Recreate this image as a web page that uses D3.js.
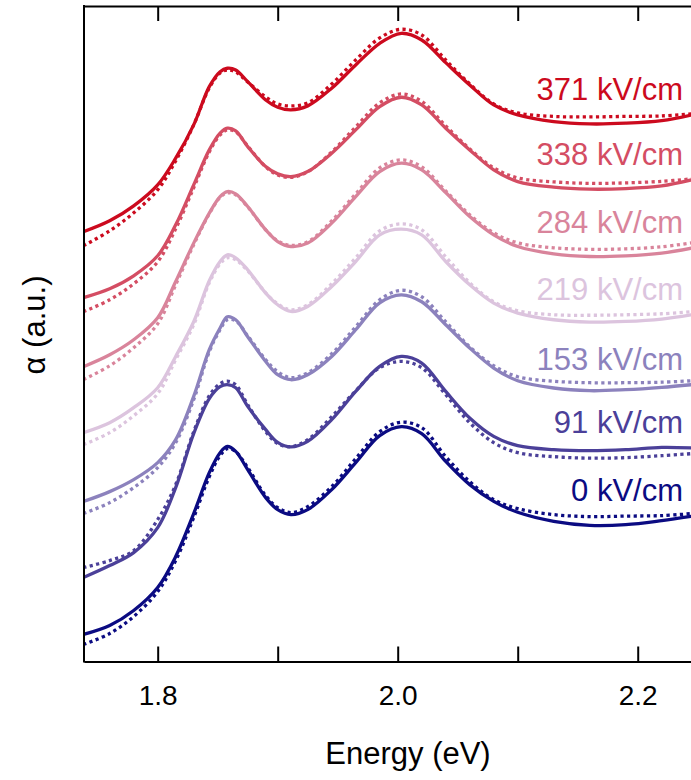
<!DOCTYPE html>
<html>
<head>
<meta charset="utf-8">
<script src="https://cdn.jsdelivr.net/npm/d3@7"></script>
<style>
  body { margin: 0; background: #fff; }
  svg { display: block; font-family: "Liberation Sans", Arial, Helvetica, sans-serif; }
</style>
</head>
<body>
<svg id="chart" width="691" height="780"></svg>
<script>
///////////////    Data    ////////////////

// Photon energy (eV), shared by every spectrum
let energy = [1.738, 1.76, 1.78, 1.80, 1.815, 1.83, 1.843, 1.852, 1.858, 1.865, 1.875, 1.89, 1.90, 1.911,
  1.925, 1.945, 1.965, 1.985, 2.003, 2.02, 2.04, 2.06, 2.08, 2.10, 2.13, 2.16, 2.19, 2.22, 2.245];

// Field labels, bottom to top
let fields = ["0 kV/cm", "91 kV/cm", "153 kV/cm", "219 kV/cm", "284 kV/cm", "338 kV/cm", "371 kV/cm"];
let colors = ["#0b0b82", "#4b4099", "#8c82bd", "#dcc4de", "#d9849b", "#d44d63", "#cc0a1e"];

// Measured absorption (solid), offset spectra, a.u.
let measured = [
  [0.27, 0.36, 0.51, 0.74, 1.05, 1.48, 1.89, 2.09, 2.153, 2.103, 1.92, 1.64, 1.52, 1.47, 1.52, 1.72, 1.99, 2.26, 2.35, 2.28, 2.003, 1.77, 1.603, 1.493, 1.403, 1.363, 1.37, 1.41, 1.453],
  [0.84, 0.96, 1.09, 1.34, 1.74, 2.28, 2.63, 2.75, 2.77, 2.74, 2.553, 2.32, 2.193, 2.147, 2.203, 2.42, 2.703, 2.953, 3.053, 2.987, 2.703, 2.437, 2.253, 2.16, 2.12, 2.11, 2.12, 2.143, 2.137],
  [1.60, 1.70, 1.82, 1.99, 2.22, 2.653, 3.12, 3.337, 3.45, 3.42, 3.25, 3.003, 2.87, 2.82, 2.87, 3.053, 3.32, 3.59, 3.67, 3.60, 3.37, 3.137, 2.937, 2.81, 2.737, 2.71, 2.72, 2.743, 2.77],
  [2.29, 2.39, 2.54, 2.74, 3.053, 3.40, 3.81, 4.003, 4.07, 4.04, 3.92, 3.687, 3.57, 3.503, 3.553, 3.753, 4.003, 4.27, 4.327, 4.27, 4.003, 3.77, 3.587, 3.487, 3.42, 3.397, 3.403, 3.427, 3.47],
  [2.95, 3.07, 3.22, 3.44, 3.803, 4.187, 4.487, 4.653, 4.703, 4.68, 4.553, 4.32, 4.203, 4.153, 4.187, 4.387, 4.653, 4.903, 4.987, 4.92, 4.693, 4.453, 4.27, 4.153, 4.08, 4.053, 4.06, 4.087, 4.137],
  [3.64, 3.73, 3.86, 4.06, 4.37, 4.77, 5.12, 5.287, 5.337, 5.31, 5.153, 4.953, 4.88, 4.853, 4.903, 5.087, 5.32, 5.553, 5.647, 5.57, 5.337, 5.12, 4.92, 4.803, 4.747, 4.727, 4.733, 4.76, 4.82],
  [4.30, 4.41, 4.56, 4.77, 5.037, 5.37, 5.753, 5.903, 5.937, 5.92, 5.803, 5.62, 5.547, 5.52, 5.56, 5.737, 5.97, 6.187, 6.287, 6.22, 5.993, 5.77, 5.57, 5.47, 5.403, 5.38, 5.387, 5.413, 5.47],
];

// Model fit (dotted)
let fitted = [
  [0.17, 0.28, 0.45, 0.70, 1.01, 1.44, 1.85, 2.06, 2.13, 2.10, 1.94, 1.66, 1.54, 1.49, 1.55, 1.75, 2.03, 2.30, 2.395, 2.34, 2.05, 1.80, 1.62, 1.53, 1.47, 1.45, 1.455, 1.46, 1.48],
  [0.94, 1.01, 1.11, 1.42, 1.77, 2.30, 2.66, 2.78, 2.805, 2.77, 2.57, 2.30, 2.18, 2.15, 2.22, 2.45, 2.71, 2.94, 3.003, 2.94, 2.67, 2.39, 2.19, 2.09, 2.05, 2.035, 2.04, 2.06, 2.08],
  [1.48, 1.59, 1.74, 1.94, 2.19, 2.62, 3.10, 3.32, 3.42, 3.41, 3.26, 3.02, 2.90, 2.84, 2.89, 3.08, 3.35, 3.62, 3.715, 3.65, 3.40, 3.15, 2.96, 2.85, 2.805, 2.79, 2.79, 2.795, 2.81],
  [2.17, 2.29, 2.46, 2.68, 3.02, 3.37, 3.79, 3.98, 4.04, 4.02, 3.91, 3.69, 3.58, 3.52, 3.57, 3.78, 4.04, 4.31, 4.38, 4.32, 4.05, 3.79, 3.60, 3.51, 3.47, 3.465, 3.47, 3.48, 3.50],
  [2.82, 2.96, 3.14, 3.38, 3.77, 4.17, 4.48, 4.645, 4.69, 4.67, 4.55, 4.32, 4.21, 4.165, 4.20, 4.41, 4.68, 4.94, 5.02, 4.95, 4.71, 4.47, 4.29, 4.19, 4.14, 4.125, 4.13, 4.15, 4.19],
  [3.50, 3.62, 3.78, 4.00, 4.33, 4.74, 5.10, 5.27, 5.32, 5.30, 5.16, 4.95, 4.87, 4.845, 4.90, 5.10, 5.35, 5.59, 5.68, 5.605, 5.36, 5.13, 4.94, 4.84, 4.80, 4.785, 4.79, 4.805, 4.83],
  [4.16, 4.31, 4.49, 4.72, 5.01, 5.37, 5.74, 5.89, 5.92, 5.90, 5.80, 5.65, 5.58, 5.56, 5.59, 5.78, 6.02, 6.24, 6.327, 6.27, 6.02, 5.78, 5.58, 5.49, 5.455, 5.45, 5.455, 5.46, 5.48],
];

// Axis ticks
let xTicks = [1.8, 1.9, 2.0, 2.1, 2.2];
let xTickLabels = ["1.8", "", "2.0", "", "2.2"];

/////////////////////////    D3.js    ////////////////////////////

let svg = d3.select("#chart");
let plotLeft = 84, plotRight = 691, plotTop = 6, plotBottom = 661.5;

let x = d3.scaleLinear().domain([1.7386, 2.2444]).range([plotLeft, plotRight]);
let y = d3.scaleLinear().domain([0, 6.56]).range([plotBottom, plotTop]);

svg.append("defs")
  .append("clipPath")
  .attr("id", "plotclip")
  .append("rect")
  .attr("x", plotLeft)
  .attr("y", 0)
  .attr("width", plotRight - plotLeft)
  .attr("height", plotBottom);

// Catmull-Rom keeps the spectra smooth through the read points
let line = d3.line()
  .x((d, i) => x(energy[i]))
  .y((d) => y(d))
  .curve(d3.curveCatmullRom.alpha(0.5));

let plot = svg.append("g").attr("clip-path", "url(#plotclip)");

for (let k = 0; k < fields.length; k++) {
  plot.append("path")
    .attr("d", line(measured[k]))
    .attr("fill", "none")
    .attr("stroke", colors[k])
    .attr("stroke-width", 3.3);

  plot.append("path")
    .attr("d", line(fitted[k]))
    .attr("fill", "none")
    .attr("stroke", colors[k])
    .attr("stroke-width", 3.3)
    .attr("stroke-dasharray", "3.2,3.4");
}

// Field labels sit just above the right end of each measured curve
svg.selectAll(".fieldlabel")
  .data(fields)
  .enter()
  .append("text")
  .attr("class", "fieldlabel")
  .attr("x", 683)
  .attr("y", (d, k) => y(measured[k][measured[k].length - 1]) - 15)
  .attr("text-anchor", "end")
  .attr("font-size", 31)
  .attr("fill", (d, k) => colors[k])
  .text((d) => d);

// Bottom axis, ticks point inward
let xAxis = d3.axisBottom(x)
  .tickValues(xTicks)
  .tickFormat((d, i) => xTickLabels[i])
  .tickSizeInner(-15)
  .tickSizeOuter(0)
  .tickPadding(24);

let gx = svg.append("g")
  .attr("transform", "translate(0," + plotBottom + ")")
  .call(xAxis);
gx.select(".domain").attr("stroke-width", 2);
gx.selectAll(".tick line").attr("stroke-width", 2);
gx.selectAll(".tick text").attr("font-size", 28).attr("fill", "#000")
  .attr("font-family", "Liberation Sans, Arial, sans-serif");

// Top frame with inward ticks
let gTop = svg.append("g")
  .attr("transform", "translate(0," + plotTop + ")")
  .call(d3.axisTop(x).tickValues(xTicks).tickFormat("").tickSizeInner(-15).tickSizeOuter(0));
gTop.select(".domain").attr("stroke-width", 2);
gTop.selectAll(".tick line").attr("stroke-width", 2);

// Left frame, no ticks
svg.append("line")
  .attr("x1", plotLeft).attr("x2", plotLeft)
  .attr("y1", plotTop - 1).attr("y2", plotBottom + 1)
  .attr("stroke", "#000")
  .attr("stroke-width", 2);

// Axis titles
svg.append("text")
  .attr("x", 408)
  .attr("y", 764)
  .attr("text-anchor", "middle")
  .attr("font-size", 31)
  .text("Energy (eV)");

svg.append("text")
  .attr("transform", "translate(45,325) rotate(-90)")
  .attr("text-anchor", "middle")
  .attr("font-size", 31)
  .text("α (a.u.)");
</script>
</body>
</html>
